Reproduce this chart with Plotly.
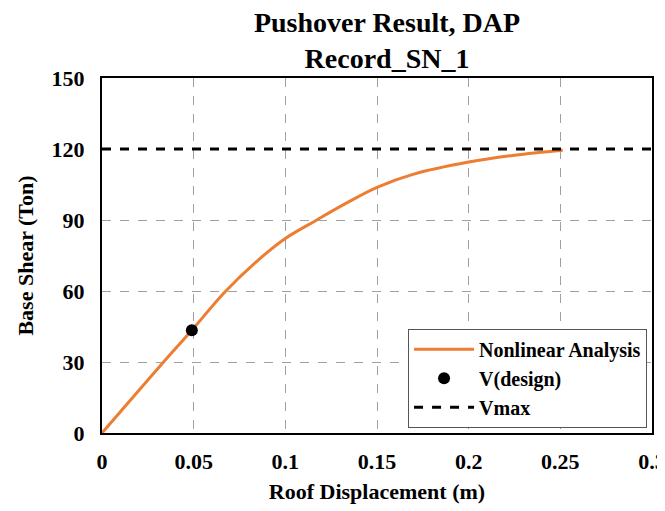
import plotly.graph_objects as go

disp = [0, 0.033, 0.049, 0.0669, 0.086, 0.1, 0.116, 0.133, 0.15, 0.17, 0.2, 0.225, 0.2513]
shear = [0, 29.5, 43.4, 59.5, 73.6, 82.2, 89.5, 97.0, 103.8, 109.4, 114.5, 117.4, 119.5]
design_disp = [0.049]
design_shear = [43.4]
vmax = 120
x_ticks = [0, 0.05, 0.1, 0.15, 0.2, 0.25, 0.3]
x_labels = ["0", "0.05", "0.1", "0.15", "0.2", "0.25", "0.3"]
y_ticks = [0, 30, 60, 90, 120, 150]

FONT = "Liberation Serif"

fig = go.Figure()
fig.add_trace(go.Scatter(x=disp, y=shear, mode="lines", name="<b>Nonlinear Analysis</b>",
                         line=dict(color="#ED7D31", width=3, shape="spline", smoothing=1.0)))
fig.add_trace(go.Scatter(x=design_disp, y=design_shear, mode="markers", name="<b>V(design)</b>",
                         marker=dict(color="black", size=12)))
fig.add_trace(go.Scatter(x=[0, 0.3], y=[vmax, vmax], mode="lines", name="<b>Vmax</b>",
                         line=dict(color="black", width=3, dash="dash")))

fig.update_layout(
    width=665, height=503,
    margin=dict(l=94, r=21, t=70, b=78),
    paper_bgcolor="white", plot_bgcolor="white",
    font=dict(family=FONT, color="black", size=16),
    title=dict(text="<b>Pushover Result, DAP<br>Record_SN_1</b>", x=0.57, xanchor="center",
               y=0.953, yanchor="top", font=dict(size=28, family=FONT)),
    showlegend=True,
    legend=dict(x=0.991, xanchor="right", y=0.015, yanchor="bottom",
                bgcolor="white", bordercolor="#555555", borderwidth=1,
                font=dict(size=20, family=FONT), tracegroupgap=0, itemwidth=60),
)
fig.update_xaxes(range=[0, 0.3], tickvals=x_ticks, ticktext=[f"<b>{t}</b>" for t in x_labels],
                 showgrid=True, gridcolor="#a0a0a0", griddash="dash", gridwidth=1,
                 showline=True, linecolor="black", linewidth=2, mirror=True, zeroline=False,
                 tickfont=dict(size=22), ticks="", automargin=False, ticklabelstandoff=8,
                 title=dict(text="<b>Roof Displacement (m)</b>", font=dict(size=22), standoff=10))
fig.update_yaxes(range=[0, 150], tickvals=y_ticks, ticktext=[f"<b>{t}</b>" for t in y_ticks],
                 showgrid=True, gridcolor="#a0a0a0", griddash="dash", gridwidth=1,
                 showline=True, linecolor="black", linewidth=2, mirror=True, zeroline=False,
                 tickfont=dict(size=22), ticks="", automargin=False, ticklabelstandoff=11,
                 title=dict(text="<b>Base Shear (Ton)</b>", font=dict(size=22), standoff=12))

fig.write_html("out.html")
